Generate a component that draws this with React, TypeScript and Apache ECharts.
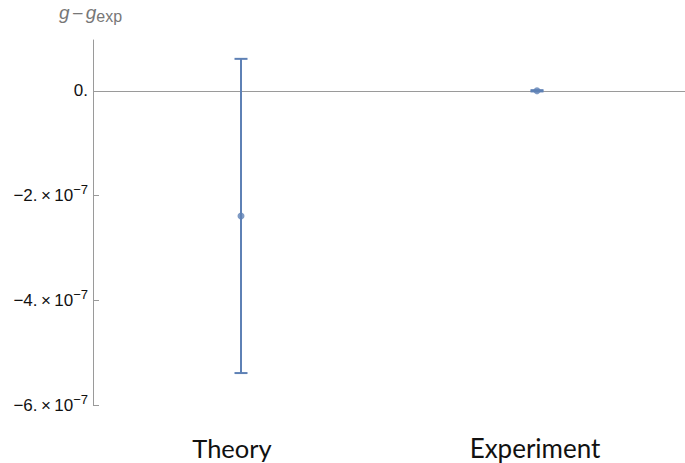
import React, { useEffect, useRef } from "react";
import * as echarts from "echarts";

const categories = ["Theory", "Experiment"];
const values = [-2.39e-7, 0];
const errors = [3.0e-7, 0.012e-7];
const yTicks = [0, -2e-7, -4e-7, -6e-7];
const yMin = -6e-7;
const yMax = 0.97e-7;

const BLUE = "#5E81B5";
const AXIS = "#9a9a9a";
const TS = "\u2009";

export default function App() {
  const ref = useRef<HTMLDivElement>(null);
  useEffect(() => {
    const chart = echarts.init(ref.current!, null, { renderer: "svg" });
    const errData = categories.map((c, i) => [i, values[i] - errors[i], values[i] + errors[i]]);
    const catStyle = { fontSize: 25.5, color: "#111", fontFamily: "Lato", lineHeight: 26 };
    chart.setOption({
      animation: false,
      grid: { left: 93, right: 0, top: 40, bottom: 58, containLabel: false },
      graphic: [
        {
          type: "text",
          left: 59,
          top: 3,
          style: {
            text: "{i|g} {n|–} {i|g}{s|exp}",
            rich: {
              i: { fontStyle: "italic", fontSize: 19, fill: "#777", fontFamily: "Liberation Sans" },
              n: { fontSize: 17, fill: "#777", fontFamily: "Liberation Sans" },
              s: { fontSize: 16, fill: "#777", fontFamily: "Liberation Sans", padding: [8, 0, 0, 0] },
            },
          },
        },
      ],
      xAxis: {
        type: "category",
        data: categories,
        boundaryGap: true,
        axisLine: { show: false },
        axisTick: { show: false },
        splitLine: { show: false },
        axisLabel: {
          margin: 30,
          ...catStyle,
          formatter: (v: string) => (v === "Theory" ? "{t|" + v + "}" : "{e|" + v + "}"),
          rich: {
            t: { ...catStyle, padding: [0, 18, 0, 0] },
            e: { ...catStyle, fontSize: 26, padding: [0, 4, 0, 0] },
          },
        },
      },
      yAxis: {
        type: "value",
        min: yMin,
        max: yMax,
        interval: 2e-7,
        axisLine: { show: true, lineStyle: { color: AXIS, width: 1 } },
        axisTick: {
          show: true,
          inside: true,
          length: 6,
          lineStyle: { color: AXIS },
          customValues: yTicks,
        },
        splitLine: { show: false },
        axisLabel: {
          customValues: yTicks,
          margin: 5,
          color: "#111",
          fontSize: 17,
          fontFamily: "Liberation Sans",
          formatter: (v: number) => {
            if (Math.abs(v) < 1e-12) return "{a|0.}";
            const m = Math.round(v / 1e-7);
            return "{a|−" + Math.abs(m) + "." + TS + "×" + TS + "10}{s|−7}";
          },
          rich: {
            a: { fontSize: 17, color: "#111", fontFamily: "Liberation Sans" },
            s: { fontSize: 13, color: "#111", fontFamily: "Liberation Sans", padding: [0, 0, 12, 0] },
          },
        },
      },
      series: [
        {
          type: "custom",
          data: errData,
          renderItem: (params: any, api: any) => {
            const x = api.value(0);
            const lo = api.coord([x, api.value(1)]);
            const hi = api.coord([x, api.value(2)]);
            const w = 6.5;
            const st = { stroke: BLUE, lineWidth: 2 };
            return {
              type: "group",
              children: [
                { type: "line", shape: { x1: hi[0], y1: hi[1], x2: lo[0], y2: lo[1] }, style: st },
                { type: "line", shape: { x1: hi[0] - w, y1: hi[1], x2: hi[0] + w, y2: hi[1] }, style: st },
                { type: "line", shape: { x1: lo[0] - w, y1: lo[1], x2: lo[0] + w, y2: lo[1] }, style: st },
              ],
            };
          },
          z: 3,
        },
        {
          type: "scatter",
          data: values.map((v, i) => [i, v]),
          symbolSize: 7,
          itemStyle: { color: BLUE },
          z: 4,
          markLine: {
            silent: true,
            symbol: ["none", "none"],
            label: { show: false },
            lineStyle: { color: AXIS, type: "solid", width: 1 },
            data: [{ yAxis: 0 }],
            z: 2,
          },
        },
      ],
    });
    return () => chart.dispose();
  }, []);
  return (
    <div
      ref={ref}
      style={{ position: "fixed", left: 0, top: 0, width: 685, height: 463, background: "#fff" }}
    />
  );
}
